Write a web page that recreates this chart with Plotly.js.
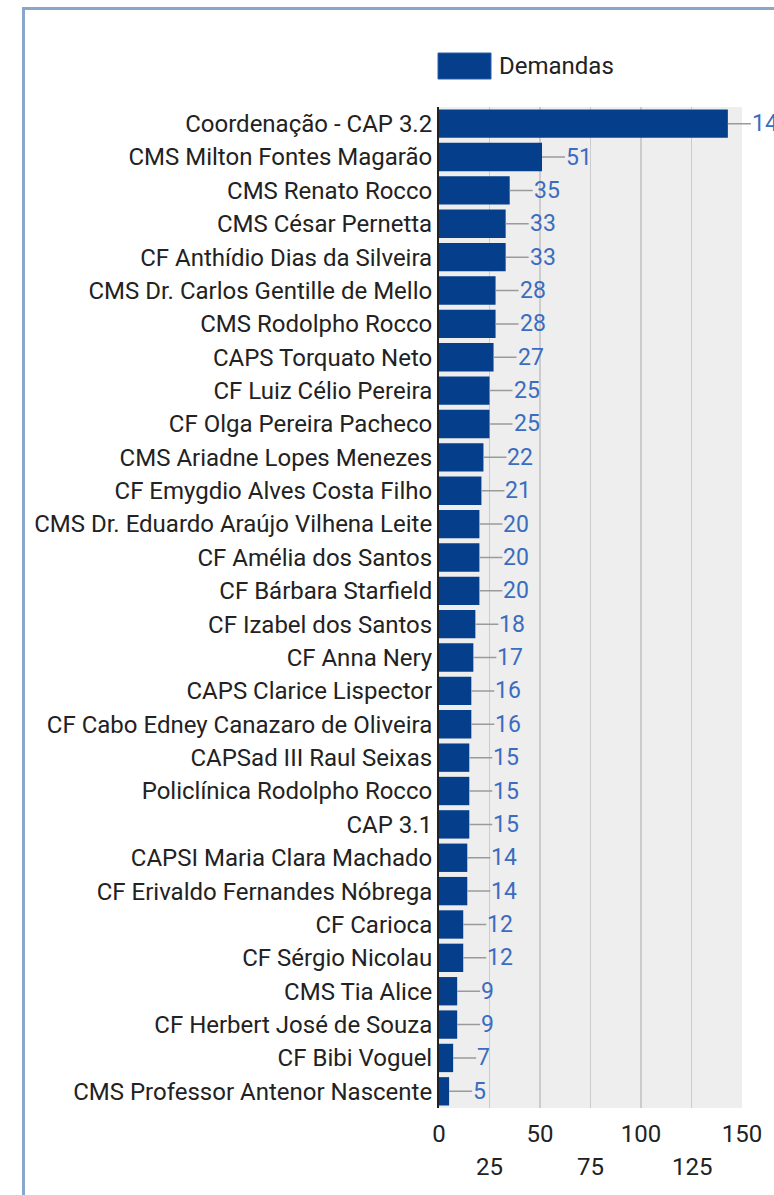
<!DOCTYPE html>
<html><head><meta charset="utf-8">
<script src="https://cdn.plot.ly/plotly-3.0.1.min.js"></script>
<style>
body{margin:0;background:#fff;overflow:hidden}
#chart{width:774px;height:1195px}
#frame{position:absolute;left:22px;top:7px;width:900px;height:1400px;border-top:3px solid #8ba6cb;border-left:3px solid #8ba6cb;pointer-events:none}
</style>
</head><body>
<div id="chart"></div><div id="frame"></div>
<script>
const categories = [
  'Coordenação - CAP 3.2',
  'CMS Milton Fontes Magarão',
  'CMS Renato Rocco',
  'CMS César Pernetta',
  'CF Anthídio Dias da Silveira',
  'CMS Dr. Carlos Gentille de Mello',
  'CMS Rodolpho Rocco',
  'CAPS Torquato Neto',
  'CF Luiz Célio Pereira',
  'CF Olga Pereira Pacheco',
  'CMS Ariadne Lopes Menezes',
  'CF Emygdio Alves Costa Filho',
  'CMS Dr. Eduardo Araújo Vilhena Leite',
  'CF Amélia dos Santos',
  'CF Bárbara Starfield',
  'CF Izabel dos Santos',
  'CF Anna Nery',
  'CAPS Clarice Lispector',
  'CF Cabo Edney Canazaro de Oliveira',
  'CAPSad III Raul Seixas',
  'Policlínica Rodolpho Rocco',
  'CAP 3.1',
  'CAPSI Maria Clara Machado',
  'CF Erivaldo Fernandes Nóbrega',
  'CF Carioca',
  'CF Sérgio Nicolau',
  'CMS Tia Alice',
  'CF Herbert José de Souza',
  'CF Bibi Voguel',
  'CMS Professor Antenor Nascente'
];
const demandas = [143, 51, 35, 33, 33, 28, 28, 27, 25, 25, 22, 21, 20, 20, 20, 18, 17, 16, 16, 15, 15, 15, 14, 14, 12, 12, 9, 9, 7, 5];
const seriesName = 'Demandas';
const gridTicks = [0, 25, 50, 75, 100, 125, 150];
const upperTickLabels = [0, 50, 100, 150];
const lowerTickLabels = [25, 75, 125];

const W = 774, H = 1195;
const M = {l: 439, r: 32, t: 107, b: 87};
const pw = W - M.l - M.r, ph = H - M.t - M.b;
const px2x = p => (p - M.l) / pw;
const py2y = p => (H - M.b - p) / ph;

const barColor = '#053e8a';
const textColor = '#222222';
const valueColor = '#3a6cc0';
const FONT = 'Roboto, Arial, sans-serif';
const FS = 24;

const trace = {
  type: 'bar',
  orientation: 'h',
  name: seriesName,
  x: demandas,
  y: categories,
  marker: {color: barColor, line: {width: 0}},
  hoverinfo: 'x+y',
  showlegend: false
};

const annotations = [];
demandas.forEach((v, i) => {
  annotations.push({
    x: v, y: categories[i], xref: 'x', yref: 'y',
    text: String(v), showarrow: true, arrowhead: 0, arrowwidth: 1.5,
    arrowcolor: '#9a9a9a', ax: 23, ay: 0, xanchor: 'left', yanchor: 'middle',
    standoff: 0, borderpad: 0,
    font: {family: FONT, size: 23, color: valueColor}
  });
});
lowerTickLabels.forEach(v => {
  annotations.push({
    x: v, xref: 'x', y: 0, yref: 'paper', yanchor: 'middle', yshift: -59,
    text: String(v), showarrow: false,
    font: {family: FONT, size: FS, color: textColor}
  });
});
// legend drawn manually
annotations.push({
  x: px2x(497), y: py2y(66), xref: 'paper', yref: 'paper',
  xanchor: 'left', yanchor: 'middle', text: seriesName, showarrow: false,
  font: {family: FONT, size: FS, color: textColor}
});

const layout = {
  width: W, height: H,
  margin: M,
  paper_bgcolor: 'rgba(0,0,0,0)',
  plot_bgcolor: '#eeeeee',
  font: {family: FONT, size: FS, color: textColor},
  bargap: 0.15,
  showlegend: false,
  xaxis: {
    range: [0, 150],
    tickvals: gridTicks,
    ticktext: gridTicks.map(v => upperTickLabels.includes(v) ? String(v) : ''),
    showgrid: true, gridcolor: '#cccccc', gridwidth: 1.5,
    zeroline: false, showline: false, ticks: '',
    ticklabelstandoff: 9,
    tickfont: {family: FONT, size: FS, color: textColor},
    fixedrange: true
  },
  yaxis: {
    type: 'category',
    autorange: 'reversed',
    showgrid: false, zeroline: false,
    showline: true, linecolor: '#222222', linewidth: 2,
    ticks: '',
    tickfont: {family: FONT, size: FS, color: textColor},
    fixedrange: true
  },
  shapes: [{
    type: 'rect', xref: 'paper', yref: 'paper',
    x0: px2x(438), x1: px2x(491), y0: py2y(79), y1: py2y(53),
    fillcolor: barColor, line: {color: '#2c5ea8', width: 1}
  }],
  annotations: annotations
};

Plotly.newPlot('chart', [trace], layout, {displayModeBar: false, staticPlot: true});
</script>
</body></html>
